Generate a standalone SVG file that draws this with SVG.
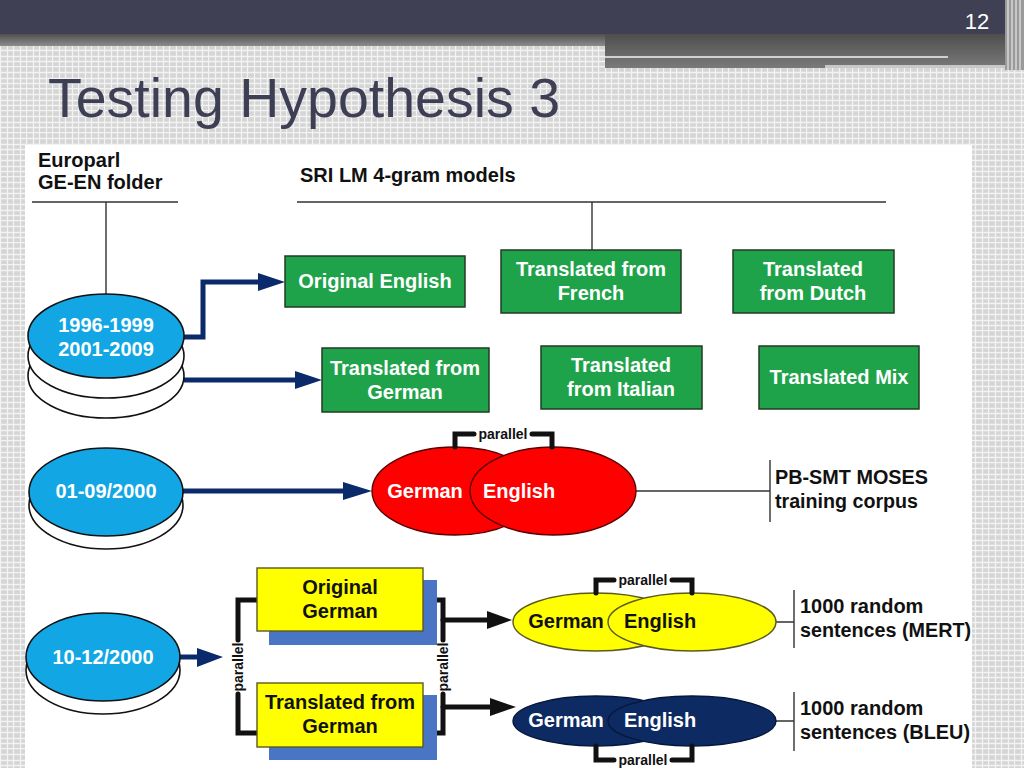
<svg xmlns="http://www.w3.org/2000/svg" width="1024" height="768" viewBox="0 0 1024 768">
<defs>
<pattern id="grid" width="26" height="22" patternUnits="userSpaceOnUse">
<rect width="26" height="22" fill="#d5d5d5"/>
<path d="M0.5 0V22M7.5 0V22M13.5 0V22M20.5 0V22M0 0.5H26M0 6.5H26M0 12.5H26M0 17.5H26" stroke="#f3f3f3" stroke-width="1.3"/>
</pattern>
<linearGradient id="band" x1="0" y1="0" x2="0" y2="1">
<stop offset="0" stop-color="#505050"/>
<stop offset="1" stop-color="#8c8c8c"/>
</linearGradient>
<linearGradient id="band2" x1="0" y1="0" x2="0" y2="1">
<stop offset="0" stop-color="#4e4e4e"/>
<stop offset="1" stop-color="#7a7a7a"/>
</linearGradient>
</defs>
<style>
.t{font-family:"Liberation Sans",Arial,sans-serif;font-weight:bold;font-size:20px}
.w{fill:#ffffff}
.k{fill:#111111}
.mid{text-anchor:middle}
.par{font-family:"Liberation Sans",Arial,sans-serif;font-weight:bold;font-size:14px;fill:#111;text-anchor:middle}
.thin{stroke:#333;stroke-width:1.4;fill:none}
.green{fill:#1fa34a;stroke:#233a23;stroke-width:1.5}
.disk{fill:#ffffff;stroke:#111;stroke-width:1.6}
.blue{fill:#12a7e4;stroke:#111;stroke-width:1.6}
.navyline{stroke:#0b2a6b;stroke-width:5;fill:none}
.navyhead{fill:#0b2a6b}
.blk{stroke:#111;stroke-width:5;fill:none;stroke-linecap:round}
.blkhead{fill:#111}
</style>
<rect width="1024" height="768" fill="url(#grid)"/>
<g id="header">
<rect x="0" y="0" width="1024" height="34" fill="#3f4054"/>
<rect x="0" y="34" width="1024" height="12" fill="url(#band)"/>
<rect x="605" y="34" width="402" height="34" fill="url(#band2)"/>
<rect x="605" y="56" width="343" height="2" fill="#d0d0d0"/>
<rect x="825" y="65" width="182" height="3" fill="#c8c8c8"/>
<rect x="1005" y="0" width="19" height="70" fill="#9a9a9a"/>
<path d="M1008 0V70M1012 0V70M1016 0V70M1020 0V70" stroke="#d8d8d8" stroke-width="1.5"/>
<text x="977" y="29" font-family="Liberation Sans,Arial,sans-serif" font-size="22" fill="#ffffff" text-anchor="middle">12</text>
</g>
<text x="48" y="117" font-family="Liberation Sans,Arial,sans-serif" font-size="56" fill="#3e3f55" textLength="512" lengthAdjust="spacingAndGlyphs">Testing Hypothesis 3</text>
<rect x="25" y="145" width="947" height="623" fill="#ffffff"/>

<g id="connectors">
<path class="thin" d="M32 202H178M106 202V298"/>
<path class="thin" d="M297 202H886M592 202V250"/>
<path class="navyline" d="M184 337H203V282H262"/>
<polygon class="navyhead" points="258,273 285,282 258,291"/>
<path class="navyline" d="M184 380H298"/>
<polygon class="navyhead" points="295,371 322,380 295,389"/>
<path class="navyline" d="M183 491H346"/>
<polygon class="navyhead" points="343,482 372,491 343,500"/>
<path class="navyline" d="M180 657H200"/>
<polygon class="navyhead" points="197,648 223,657 197,667"/>
<path class="thin" d="M636 491H770M770 460V522"/>
<path class="thin" d="M776 622H794M794 590V648"/>
<path class="thin" d="M776 721H794M794 692V751"/>
<path class="blk" d="M257 600H238V640M238 694V733H257"/>
<path class="blk" d="M423 600H443V640M443 694V733H423"/>
<path class="blk" d="M443 620H490" stroke-linecap="butt"/>
<polygon class="blkhead" points="487,611 512,620 487,629"/>
<path class="blk" d="M443 707H493" stroke-linecap="butt"/>
<polygon class="blkhead" points="490,698 516,707 490,716"/>
</g>

<g id="europarl-label">
<text class="t k" x="38" y="167">Europarl</text>
<text class="t k" x="38" y="189">GE-EN folder</text>
</g>
<g id="srilm-label">
<text class="t k" x="300" y="182">SRI LM 4-gram models</text>
</g>

<g id="disk-1996">
<ellipse class="disk" cx="106" cy="376" rx="78" ry="42"/>
<ellipse class="disk" cx="106" cy="356" rx="78" ry="42"/>
<ellipse class="blue" cx="106" cy="336" rx="78" ry="42"/>
<text class="t w mid" x="106" y="332">1996-1999</text>
<text class="t w mid" x="106" y="356">2001-2009</text>
</g>
<g id="disk-0109">
<ellipse class="disk" cx="106" cy="505" rx="77" ry="44"/>
<ellipse class="blue" cx="106" cy="492" rx="77" ry="44"/>
<text class="t w mid" x="106" y="498">01-09/2000</text>
</g>
<g id="disk-1012">
<ellipse class="disk" cx="103" cy="670" rx="77" ry="44"/>
<ellipse class="blue" cx="103" cy="657" rx="77" ry="44"/>
<text class="t w mid" x="103" y="664">10-12/2000</text>
</g>

<g id="lm-original-english">
<rect class="green" x="285" y="256" width="180" height="51"/>
<text class="t w mid" x="375" y="288">Original English</text>
</g>
<g id="lm-french">
<rect class="green" x="501" y="250" width="180" height="63"/>
<text class="t w mid" x="591" y="276">Translated from</text>
<text class="t w mid" x="591" y="300">French</text>
</g>
<g id="lm-dutch">
<rect class="green" x="733" y="250" width="161" height="63"/>
<text class="t w mid" x="813" y="276">Translated</text>
<text class="t w mid" x="813" y="300">from Dutch</text>
</g>
<g id="lm-german">
<rect class="green" x="322" y="348" width="167" height="64"/>
<text class="t w mid" x="405" y="375">Translated from</text>
<text class="t w mid" x="405" y="399">German</text>
</g>
<g id="lm-italian">
<rect class="green" x="541" y="346" width="161" height="63"/>
<text class="t w mid" x="621" y="372">Translated</text>
<text class="t w mid" x="621" y="396">from Italian</text>
</g>
<g id="lm-mix">
<rect class="green" x="759" y="346" width="160" height="63"/>
<text class="t w mid" x="839" y="384">Translated Mix</text>
</g>

<g id="moses-corpus">
<ellipse cx="455" cy="491" rx="83" ry="44" fill="#ff0000" stroke="#5a0000" stroke-width="1.4"/>
<ellipse cx="553" cy="491" rx="83" ry="44" fill="#ff0000" stroke="#5a0000" stroke-width="1.4"/>
<text class="t w mid" x="425" y="498">German</text>
<text class="t w mid" x="519" y="498">English</text>
<path class="blk" d="M455 447V434H474M532 434H552V447" stroke-linecap="butt"/>
<text class="par" x="503" y="439">parallel</text>
</g>
<g id="moses-label">
<text class="t k" x="775" y="484" textLength="153" lengthAdjust="spacingAndGlyphs">PB-SMT MOSES</text>
<text class="t k" x="775" y="508" textLength="143" lengthAdjust="spacingAndGlyphs">training corpus</text>
</g>

<g id="original-german">
<rect x="269" y="580" width="168" height="65" fill="#4a74c4"/>
<rect x="257" y="568" width="166" height="63" fill="#ffff00" stroke="#5a5a20" stroke-width="1.4"/>
<text class="t k mid" x="340" y="594">Original</text>
<text class="t k mid" x="340" y="618">German</text>
</g>
<g id="translated-german">
<rect x="269" y="695" width="168" height="65" fill="#4a74c4"/>
<rect x="257" y="683" width="166" height="64" fill="#ffff00" stroke="#5a5a20" stroke-width="1.4"/>
<text class="t k mid" x="340" y="709">Translated from</text>
<text class="t k mid" x="340" y="733">German</text>
</g>
<text class="par" transform="translate(243 667) rotate(-90)" x="0" y="0">parallel</text>
<text class="par" transform="translate(448 667) rotate(-90)" x="0" y="0">parallel</text>

<g id="mert-set">
<ellipse cx="596" cy="622" rx="83" ry="29" fill="#ffff00" stroke="#5a5a20" stroke-width="1.4"/>
<ellipse cx="692" cy="622" rx="84" ry="29" fill="#ffff00" stroke="#5a5a20" stroke-width="1.4"/>
<text class="t k mid" x="566" y="628">German</text>
<text class="t k mid" x="660" y="628">English</text>
<path class="blk" d="M596 593V580H614M672 580H692V593" stroke-linecap="butt"/>
<text class="par" x="643" y="585">parallel</text>
</g>
<g id="mert-label">
<text class="t k" x="800" y="613">1000 random</text>
<text class="t k" x="800" y="637" textLength="171" lengthAdjust="spacingAndGlyphs">sentences (MERT)</text>
</g>

<g id="bleu-set">
<ellipse cx="596" cy="721" rx="83" ry="25" fill="#0d2a63" stroke="#06173a" stroke-width="1.4"/>
<ellipse cx="692" cy="721" rx="84" ry="25" fill="#0d2a63" stroke="#06173a" stroke-width="1.4"/>
<text class="t w mid" x="566" y="727">German</text>
<text class="t w mid" x="660" y="727">English</text>
<path class="blk" d="M596 746V760H614M672 760H692V746" stroke-linecap="butt"/>
<text class="par" x="643" y="765">parallel</text>
</g>
<g id="bleu-label">
<text class="t k" x="800" y="715">1000 random</text>
<text class="t k" x="800" y="739" textLength="170" lengthAdjust="spacingAndGlyphs">sentences (BLEU)</text>
</g>
</svg>
